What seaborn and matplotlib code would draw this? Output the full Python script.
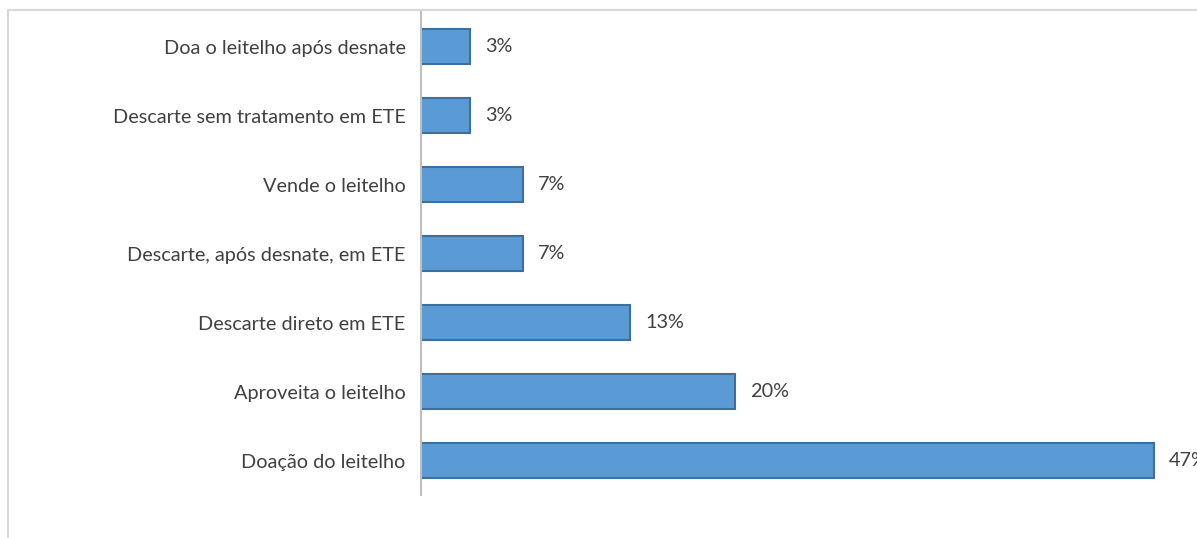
import matplotlib
matplotlib.use("Agg")
import matplotlib.pyplot as plt
import seaborn as sns
import pandas as pd
from matplotlib.patches import Rectangle

categories = [
    "Doa o leitelho após desnate",
    "Descarte sem tratamento em ETE",
    "Vende o leitelho",
    "Descarte, após desnate, em ETE",
    "Descarte direto em ETE",
    "Aproveita o leitelho",
    "Doação do leitelho",
]
values = [3.1, 3.1, 6.5, 6.5, 13.3, 20.0, 46.67]
labels = ["3%", "3%", "7%", "7%", "13%", "20%", "47%"]

df = pd.DataFrame({"cat": categories, "val": values})

sns.set_style("white")
plt.rcParams["font.family"] = ["Lato", "DejaVu Sans"]

W, H = 1197, 538
fig = plt.figure(figsize=(W / 100, H / 100), dpi=100)
fig.patch.set_facecolor("white")

# outer chart frame
fig.patches.append(Rectangle((8 / W, -0.1), 1.2, 1 - 10 / H + 0.1,
                             transform=fig.transFigure, fill=False,
                             edgecolor="#d9d9d9", linewidth=1.5))

ax_left, ax_right = 421 / W, 1.0
ax_top, ax_bot = 1 - 12 / H, 1 - 495 / H
ax = fig.add_axes([ax_left, ax_bot, ax_right - ax_left, ax_top - ax_bot])

sns.barplot(data=df, x="val", y="cat", order=categories, orient="h",
            color="#5B9BD5", edgecolor="#3C6E9E", linewidth=1.5,
            width=0.5, saturation=1, ax=ax)

ax.set_xlim(0, 46.67 * 776 / 733)
ax.set_ylim(6.5, -0.5)
ax.set_xlabel("")
ax.set_ylabel("")
ax.set_xticks([])
ax.tick_params(axis="y", length=0, pad=11, labelsize=14.3, labelcolor="#404040")
for s in ["top", "right", "bottom"]:
    ax.spines[s].set_visible(False)
ax.spines["left"].set_color("#bfbfbf")
ax.spines["left"].set_linewidth(1.5)
ax.set_facecolor("none")

for i, (v, lab) in enumerate(zip(values, labels)):
    ax.annotate(lab, (v, i), xytext=(11, 0), textcoords="offset points",
                va="center", ha="left", fontsize=14.3, color="#404040",
                annotation_clip=False)

fig.savefig("out.png", dpi=100)
